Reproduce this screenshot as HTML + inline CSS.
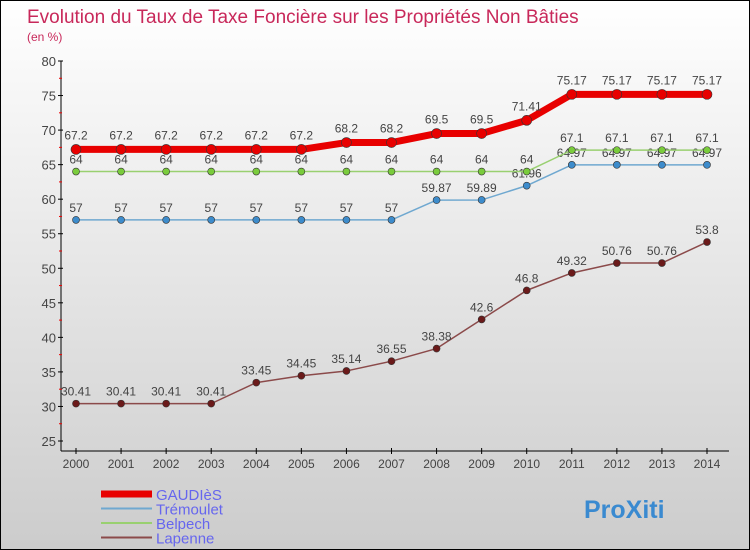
<!DOCTYPE html>
<html><head><meta charset="utf-8"><style>
body{margin:0}
#c{width:750px;height:550px;font-family:"Liberation Sans",sans-serif;background:linear-gradient(#fff,#ccc);position:relative;overflow:hidden;box-sizing:border-box;border:1px solid #000}
</style></head><body>
<div id="c">
<svg id="s" width="750" height="550"></svg>
</div>
<script>
const years=[2000,2001,2002,2003,2004,2005,2006,2007,2008,2009,2010,2011,2012,2013,2014];
const gaudies=[67.2,67.2,67.2,67.2,67.2,67.2,68.2,68.2,69.5,69.5,71.41,75.17,75.17,75.17,75.17];
const tremoulet=[57,57,57,57,57,57,57,57,59.87,59.89,61.96,64.97,64.97,64.97,64.97];
const belpech=[64,64,64,64,64,64,64,64,64,64,64,67.1,67.1,67.1,67.1];
const lapenne=[30.41,30.41,30.41,30.41,33.45,34.45,35.14,36.55,38.38,42.6,46.8,49.32,50.76,50.76,53.8];
const yTicks=[25,30,35,40,45,50,55,60,65,70,75,80];
const NS="http://www.w3.org/2000/svg";
const s=document.getElementById('s');
const X=i=>75+i*(631/14);
const Y=v=>60+(80-v)*(380/55);
function el(t,a,txt){const e=document.createElementNS(NS,t);for(const k in a)e.setAttribute(k,a[k]);if(txt!=null)e.textContent=txt;s.appendChild(e);return e;}
let e;
e=el('text',{x:26,y:22,'font-size':19,fill:'#c8285a'},'Evolution du Taux de Taxe Foncière sur les Propriétés Non Bâties');


e=el('text',{x:26,y:40,'font-size':12,fill:'#c8285a'},'(en %)');


e=el('line',{x1:60,y1:60,x2:60,y2:450,stroke:'#000'});


e=el('line',{x1:60,y1:450,x2:728,y2:450,stroke:'#000'});


yTicks.forEach(v=>{
 el('line',{x1:57,y1:Y(v),x2:62,y2:Y(v),stroke:'#000'});
 if(v<80) el('line',{x1:58,y1:Y(v+2.5),x2:61,y2:Y(v+2.5),stroke:'#e00'});
 e=el('text',{x:55,y:Y(v)+5,'font-size':13,fill:'#444','text-anchor':'end'},v);
 
 
});
years.forEach((y,i)=>{
 el('line',{x1:X(i),y1:447,x2:X(i),y2:453,stroke:'#000'});
 e=el('text',{x:X(i),y:467,'font-size':12,fill:'#444','text-anchor':'middle'},y);
 
 
});
function series(vals,color,w,r,dot,name,labOff){
 const pts=vals.map((v,i)=>X(i)+','+Y(v)).join(' ');
 e=el('polyline',{points:pts,fill:'none',stroke:color,'stroke-width':w,'stroke-linejoin':'round'});
 
 
 vals.forEach((v,i)=>{
  e=el('circle',{cx:X(i),cy:Y(v),r:r,fill:dot,stroke:'#333','stroke-width':0.6});
  
  
  e=el('text',{x:X(i),y:Y(v)+labOff,'font-size':12,fill:'#444','text-anchor':'middle'},v);
  
  
 });
}
series(lapenne,'#8b4a4a',1.5,3.5,'#6b1a1a','lapenne',-8);
series(tremoulet,'#6fa8d0',1.5,3.5,'#3d8ccc','tremoulet',-8);
series(belpech,'#99d070',1.5,3.5,'#7acc3c','belpech',-8);
series(gaudies,'#e80000',7,5,'#e80000','gaudies',-10);
const leg=[['GAUDIèS','#e80000',7],['Trémoulet','#6fa8d0',2],['Belpech','#99d070',2],['Lapenne','#8b4a4a',2]];
leg.forEach((l,i)=>{
 const y=493+i*14.5;
 e=el('line',{x1:100,y1:y,x2:151,y2:y,stroke:l[1],'stroke-width':l[2]});
 
 
 e=el('text',{x:155,y:y+6,'font-size':15,fill:'#6666ee'},l[0]);
 
 
});
e=el('text',{x:583,y:517,'font-size':25,'font-weight':'bold',fill:'#3a8ad0'},'ProXiti');


</script>
</body></html>
